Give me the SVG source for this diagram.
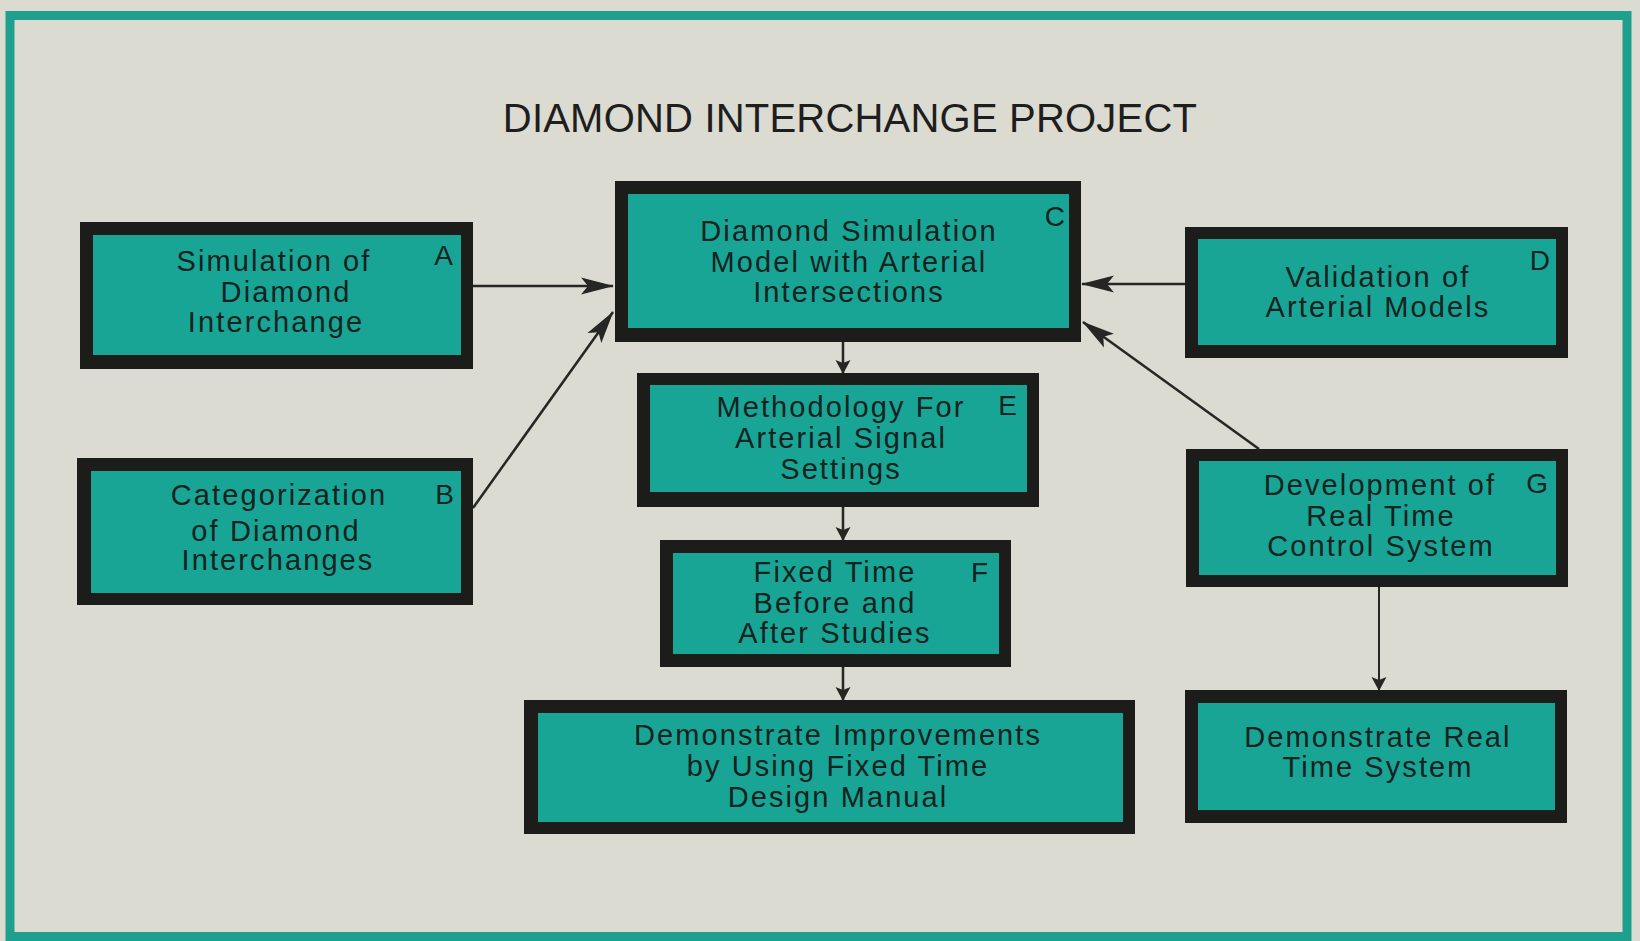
<svg xmlns="http://www.w3.org/2000/svg" width="1640" height="941" viewBox="0 0 1640 941">
<style>
.bg{fill:#dcdbd1}
.frame{fill:none;stroke:#1fa08e;stroke-width:9}
.ob{fill:#1c1d1b}
.ib{fill:#18a595}
.t{font-family:"Liberation Sans",Arial,Helvetica,sans-serif;font-size:29px;letter-spacing:2.1px;fill:#142220;text-anchor:middle}
.l{font-family:"Liberation Sans",Arial,Helvetica,sans-serif;font-size:28px;fill:#142220;text-anchor:end}
.title{font-family:"Liberation Sans",Arial,Helvetica,sans-serif;font-size:40px;letter-spacing:0.2px;fill:#1e1e1e;text-anchor:middle}
.c{fill:none;stroke:#262624;stroke-width:2.5}
.c2{fill:none;stroke:#262624;stroke-width:2}
</style>
<defs>
<marker id="big" markerUnits="userSpaceOnUse" viewBox="-34 -10 36 20" refX="0" refY="0" markerWidth="36" markerHeight="20" orient="auto">
<path d="M1,0 L-32,-8.5 L-25,0 L-32,8.5 Z" fill="#262624"/>
</marker>
<marker id="small" markerUnits="userSpaceOnUse" viewBox="-16 -10 18 20" refX="0" refY="0" markerWidth="18" markerHeight="20" orient="auto">
<path d="M1,0 L-13,-7.5 L-10,0 L-13,7.5 Z" fill="#262624"/>
</marker>
</defs>
<rect class="bg" x="0" y="0" width="1640" height="941"/>
<rect class="frame" x="10" y="15.5" width="1617" height="921"/>
<text class="title" x="850" y="132">DIAMOND INTERCHANGE PROJECT</text>

<g id="connectors">
<path class="c" d="M473,286 L613,286" marker-end="url(#big)"/>
<path class="c" d="M473,508 L613,312" marker-end="url(#big)"/>
<path class="c" d="M1185,284 L1082,284" marker-end="url(#big)"/>
<path class="c" d="M1259,449 L1083,322" marker-end="url(#big)"/>
<path class="c" d="M843,342 L843,373" marker-end="url(#small)"/>
<path class="c" d="M843,507 L843,540" marker-end="url(#small)"/>
<path class="c" d="M843,667 L843,700" marker-end="url(#small)"/>
<path class="c2" d="M1379,587 L1379,690" marker-end="url(#small)"/>
</g>

<g id="nodeA">
<rect class="ob" x="80" y="222" width="393" height="147"/>
<rect class="ib" x="93" y="235" width="368" height="120"/>
<text class="t" x="274" y="271">Simulation of</text>
<text class="t" x="286" y="301.5">Diamond</text>
<text class="t" x="276" y="332">Interchange</text>
<text class="l" x="453" y="265">A</text>
</g>

<g id="nodeB">
<rect class="ob" x="77" y="458" width="396" height="147"/>
<rect class="ib" x="91" y="471" width="370" height="122"/>
<text class="t" x="279" y="505">Categorization</text>
<text class="t" x="276" y="541">of Diamond</text>
<text class="t" x="278" y="570">Interchanges</text>
<text class="l" x="454" y="504">B</text>
</g>

<g id="nodeC">
<rect class="ob" x="615" y="181" width="466" height="161"/>
<rect class="ib" x="628" y="194" width="441" height="134"/>
<text class="t" x="849" y="241">Diamond Simulation</text>
<text class="t" x="849" y="271.5">Model with Arterial</text>
<text class="t" x="849" y="302">Intersections</text>
<text class="l" x="1065" y="226">C</text>
</g>

<g id="nodeD">
<rect class="ob" x="1185" y="227" width="383" height="131"/>
<rect class="ib" x="1198" y="239" width="358" height="106"/>
<text class="t" x="1378" y="287">Validation of</text>
<text class="t" x="1378" y="316.5">Arterial Models</text>
<text class="l" x="1550" y="270">D</text>
</g>

<g id="nodeE">
<rect class="ob" x="637" y="373" width="402" height="134"/>
<rect class="ib" x="650" y="385" width="377" height="107"/>
<text class="t" x="841" y="417">Methodology For</text>
<text class="t" x="841" y="448">Arterial Signal</text>
<text class="t" x="841" y="478.5">Settings</text>
<text class="l" x="1017" y="415">E</text>
</g>

<g id="nodeF">
<rect class="ob" x="660" y="540" width="351" height="127"/>
<rect class="ib" x="673" y="553" width="326" height="101"/>
<text class="t" x="835" y="582">Fixed Time</text>
<text class="t" x="835" y="612.5">Before and</text>
<text class="t" x="835" y="642.5">After Studies</text>
<text class="l" x="988" y="582">F</text>
</g>

<g id="nodeH">
<rect class="ob" x="524" y="700" width="611" height="134"/>
<rect class="ib" x="538" y="713" width="585" height="109"/>
<text class="t" x="838" y="745">Demonstrate Improvements</text>
<text class="t" x="838" y="776">by Using Fixed Time</text>
<text class="t" x="838" y="806.5">Design Manual</text>
</g>

<g id="nodeG">
<rect class="ob" x="1186" y="449" width="382" height="138"/>
<rect class="ib" x="1199" y="461" width="357" height="114"/>
<text class="t" x="1380" y="494.5">Development of</text>
<text class="t" x="1381" y="525.5">Real Time</text>
<text class="t" x="1381" y="556">Control System</text>
<text class="l" x="1548" y="493">G</text>
</g>

<g id="nodeI">
<rect class="ob" x="1185" y="690" width="382" height="133"/>
<rect class="ib" x="1198" y="703" width="357" height="107"/>
<text class="t" x="1378" y="747">Demonstrate Real</text>
<text class="t" x="1378" y="777">Time System</text>
</g>
</svg>
